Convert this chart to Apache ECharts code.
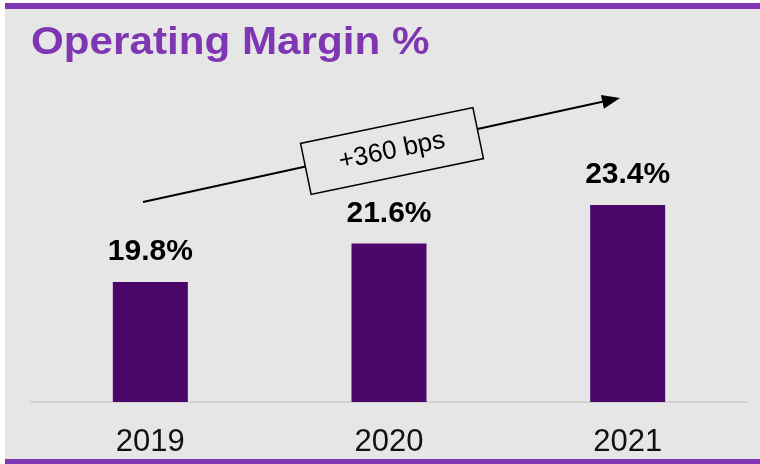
<!DOCTYPE html>
<html>
<head>
<meta charset="utf-8">
<script src="https://cdn.jsdelivr.net/npm/echarts@6/dist/echarts.min.js"></script>
<style>
  html, body { margin: 0; padding: 0; background: #ffffff; }
  #chart { width: 760px; height: 464px; }
</style>
</head>
<body>
<div id="chart"></div>
<script>
// data
const years = ["2019", "2020", "2021"];
const margins = [19.8, 21.6, 23.4];
const changeLabel = "+360 bps";

const purple = "#7f36b2";
const barColor = "#4b086a";

const chart = echarts.init(document.getElementById("chart"));

// arrow geometry (annotation only)
const tail = [143, 202];
const tip = [620, 98];
const dx = tip[0] - tail[0], dy = tip[1] - tail[1];
const len = Math.sqrt(dx * dx + dy * dy);
const ux = dx / len, uy = dy / len;
const headLen = 18, headHalf = 7;
const base = [tip[0] - headLen * ux, tip[1] - headLen * uy];
const angle = Math.atan2(-dy, dx);

const option = {
  backgroundColor: "#ffffff",
  animation: false,
  grid: { left: 31, right: 13, top: 100, bottom: 62 },
  xAxis: {
    type: "category",
    data: years,
    axisLine: { lineStyle: { color: "#d2d2d2", width: 2 } },
    axisTick: { show: false },
    axisLabel: {
      margin: 25,
      color: "#111",
      fontSize: 31,
      fontFamily: "Liberation Sans, Arial",
    },
  },
  yAxis: { type: "value", min: 14.2, max: 28.3, show: false },
  series: [
    {
      type: "bar",
      data: margins,
      barWidth: 75,
      itemStyle: { color: barColor },
      label: {
        show: true,
        position: "top",
        distance: 15,
        formatter: (p) => p.value.toFixed(1) + "%",
        color: "#000",
        fontSize: 30,
        fontWeight: "bold",
        fontFamily: "Liberation Sans, Arial",
      },
    },
  ],
  graphic: [
    // grey panel with purple rules
    { type: "rect", z: -10, shape: { x: 5, y: 0, width: 755, height: 464 }, style: { fill: "#e6e6e6" } },
    { type: "rect", z: -9, shape: { x: 0, y: 0, width: 760, height: 3 }, style: { fill: "#ffffff" } },
    { type: "rect", z: -8, shape: { x: 5, y: 3, width: 755, height: 6 }, style: { fill: purple } },
    { type: "rect", z: -8, shape: { x: 5, y: 459, width: 755, height: 5 }, style: { fill: purple } },
    {
      type: "text",
      x: 31,
      y: 44,
      scaleX: 1.11,
      style: {
        text: "Operating Margin %",
        fill: purple,
        font: "bold 38px 'Liberation Sans', Arial",
        verticalAlign: "middle",
      },
    },
    // trend arrow
    {
      type: "line",
      shape: { x1: tail[0], y1: tail[1], x2: base[0], y2: base[1] },
      style: { stroke: "#000", lineWidth: 2 },
    },
    {
      type: "polygon",
      shape: {
        points: [
          tip,
          [base[0] - headHalf * uy, base[1] + headHalf * ux],
          [base[0] + headHalf * uy, base[1] - headHalf * ux],
        ],
      },
      style: { fill: "#000" },
    },
    {
      type: "group",
      x: 392,
      y: 151,
      rotation: angle - 0.01,
      children: [
        {
          type: "rect",
          shape: { x: -88, y: -26, width: 176, height: 52 },
          style: { fill: "#e6e6e6", stroke: "#000", lineWidth: 1.5 },
        },
        {
          type: "text",
          style: {
            text: changeLabel,
            x: 0,
            y: 0,
            align: "center",
            verticalAlign: "middle",
            fill: "#000",
            font: "26px 'Liberation Sans', Arial",
          },
        },
      ],
    },
  ],
};

chart.setOption(option);
</script>
</body>
</html>
